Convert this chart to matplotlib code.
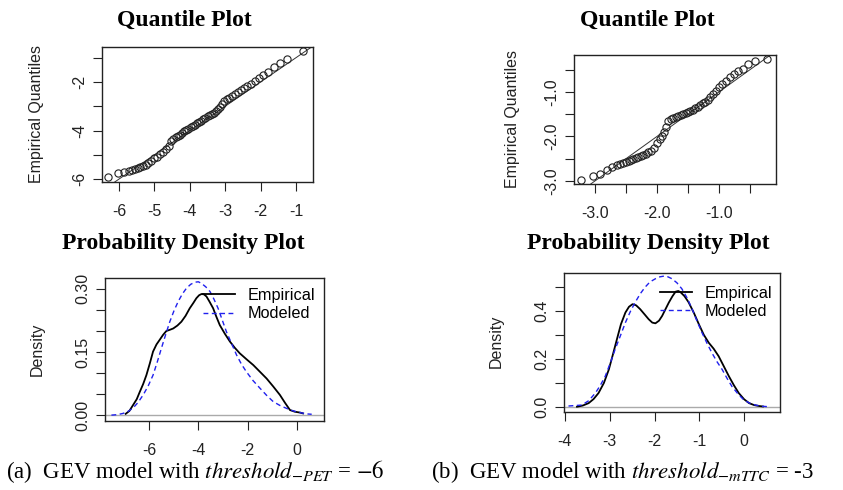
import matplotlib
matplotlib.use("Agg")
import matplotlib.pyplot as plt

plt.rcParams["font.family"] = ["Liberation Sans", "DejaVu Sans"]
plt.rcParams["axes.unicode_minus"] = False
plt.rcParams["mathtext.fontset"] = "stix"

# quantile plot (a): model quantile vs empirical quantile
model_a = [-6.31, -6.03, -5.86, -5.72, -5.62, -5.55, -5.47, -5.40, -5.32, -5.25,
           -5.18, -5.10, -5.02, -4.93, -4.85, -4.76, -4.68, -4.60, -4.53, -4.47,
           -4.40, -4.34, -4.28, -4.22, -4.16, -4.10, -4.04, -3.98, -3.92, -3.86,
           -3.80, -3.74, -3.68, -3.62, -3.56, -3.50, -3.44, -3.38, -3.32, -3.26,
           -3.20, -3.14, -3.08, -3.02, -2.95, -2.88, -2.80, -2.72, -2.64, -2.56,
           -2.47, -2.38, -2.28, -2.17, -2.05, -1.92, -1.78, -1.62, -1.45, -1.25,
           -0.80]
empirical_a = [-5.92, -5.75, -5.71, -5.66, -5.62, -5.58, -5.55, -5.52, -5.48, -5.42,
               -5.35, -5.25, -5.15, -5.08, -4.97, -4.88, -4.75, -4.62, -4.45, -4.33,
               -4.27, -4.22, -4.17, -4.10, -4.03, -3.97, -3.92, -3.87, -3.81, -3.76,
               -3.70, -3.65, -3.60, -3.54, -3.48, -3.42, -3.37, -3.32, -3.27, -3.20,
               -3.12, -3.05, -2.92, -2.78, -2.72, -2.66, -2.58, -2.50, -2.42, -2.34,
               -2.26, -2.17, -2.08, -1.96, -1.85, -1.72, -1.59, -1.40, -1.22, -1.05,
               -0.72]

# quantile plot (b)
model_b = [-3.23, -3.04, -2.92, -2.81, -2.72, -2.65, -2.59, -2.55, -2.50, -2.46,
           -2.42, -2.38, -2.34, -2.30, -2.26, -2.22, -2.18, -2.14, -2.10, -2.05,
           -2.00, -1.96, -1.92, -1.88, -1.85, -1.82, -1.78, -1.74, -1.70, -1.66,
           -1.62, -1.58, -1.54, -1.50, -1.46, -1.42, -1.38, -1.34, -1.30, -1.26,
           -1.22, -1.18, -1.14, -1.10, -1.05, -1.00, -0.95, -0.89, -0.82, -0.76,
           -0.70, -0.62, -0.53, -0.42, -0.23]
empirical_b = [-2.98, -2.90, -2.84, -2.75, -2.69, -2.64, -2.61, -2.59, -2.57, -2.55,
               -2.53, -2.51, -2.49, -2.47, -2.45, -2.42, -2.39, -2.36, -2.33, -2.26,
               -2.15, -2.05, -1.98, -1.90, -1.78, -1.66, -1.62, -1.59, -1.57, -1.55,
               -1.52, -1.50, -1.48, -1.46, -1.43, -1.40, -1.37, -1.34, -1.30, -1.26,
               -1.22, -1.18, -1.12, -1.04, -0.98, -0.90, -0.83, -0.76, -0.66, -0.59,
               -0.54, -0.48, -0.38, -0.30, -0.26]

# density plot (a)
emp_x_a = [-6.95, -6.80, -6.65, -6.50, -6.38, -6.24, -6.11, -5.97, -5.84, -5.70,
           -5.57, -5.43, -5.30, -5.15, -5.02, -4.85, -4.69, -4.52, -4.35, -4.20,
           -4.08, -3.97, -3.87, -3.77, -3.67, -3.55, -3.40, -3.27, -3.13, -2.92,
           -2.72, -2.52, -2.32, -2.05, -1.77, -1.50, -1.23, -0.96, -0.69, -0.48,
           -0.28, -0.08, 0.13, 0.25]
emp_y_a = [0.003, 0.010, 0.024, 0.038, 0.055, 0.074, 0.095, 0.123, 0.151, 0.168,
           0.179, 0.191, 0.200, 0.203, 0.206, 0.213, 0.222, 0.236, 0.254, 0.267,
           0.278, 0.285, 0.288, 0.287, 0.282, 0.270, 0.254, 0.234, 0.214, 0.193,
           0.175, 0.160, 0.147, 0.133, 0.119, 0.103, 0.087, 0.068, 0.048, 0.029,
           0.012, 0.008, 0.006, 0.004]
mod_x_a = [-7.53, -7.30, -7.06, -6.85, -6.65, -6.45, -6.24, -6.04, -5.84, -5.67,
           -5.50, -5.33, -5.16, -4.99, -4.82, -4.65, -4.48, -4.31, -4.14, -4.00,
           -3.87, -3.70, -3.53, -3.37, -3.20, -3.03, -2.86, -2.65, -2.45, -2.25,
           -2.05, -1.78, -1.50, -1.23, -0.96, -0.69, -0.42, -0.15, 0.13, 0.37,
           0.60]
mod_y_a = [0.000, 0.001, 0.004, 0.009, 0.017, 0.030, 0.048, 0.069, 0.095, 0.126,
           0.159, 0.191, 0.222, 0.248, 0.270, 0.288, 0.302, 0.311, 0.316, 0.317,
           0.313, 0.305, 0.294, 0.276, 0.254, 0.226, 0.198, 0.170, 0.143, 0.121,
           0.103, 0.082, 0.064, 0.047, 0.032, 0.023, 0.016, 0.010, 0.006, 0.003,
           0.002]

# density plot (b)
emp_x_b = [-3.73, -3.60, -3.47, -3.36, -3.25, -3.13, -3.02, -2.93, -2.84, -2.75,
           -2.65, -2.57, -2.49, -2.41, -2.32, -2.22, -2.13, -2.05, -1.98, -1.90,
           -1.83, -1.75, -1.68, -1.60, -1.53, -1.47, -1.42, -1.33, -1.24, -1.12,
           -1.01, -0.90, -0.79, -0.68, -0.57, -0.46, -0.34, -0.23, -0.12, 0.00,
           0.11, 0.22, 0.33, 0.42]
emp_y_b = [0.001, 0.006, 0.016, 0.033, 0.058, 0.100, 0.156, 0.218, 0.282, 0.345,
           0.394, 0.418, 0.429, 0.424, 0.408, 0.386, 0.366, 0.352, 0.349, 0.360,
           0.380, 0.410, 0.436, 0.462, 0.481, 0.484, 0.479, 0.462, 0.437, 0.392,
           0.345, 0.301, 0.268, 0.243, 0.212, 0.172, 0.128, 0.091, 0.058, 0.032,
           0.016, 0.008, 0.004, 0.002]
mod_x_b = [-3.92, -3.77, -3.62, -3.47, -3.32, -3.21, -3.10, -2.99, -2.88, -2.76,
           -2.65, -2.54, -2.43, -2.32, -2.21, -2.10, -1.98, -1.88, -1.79, -1.70,
           -1.61, -1.50, -1.39, -1.27, -1.16, -1.05, -0.94, -0.83, -0.72, -0.61,
           -0.49, -0.38, -0.27, -0.14, -0.01, 0.12, 0.25, 0.40, 0.55]
mod_y_b = [0.004, 0.006, 0.008, 0.026, 0.058, 0.090, 0.128, 0.182, 0.240, 0.298,
           0.352, 0.398, 0.437, 0.472, 0.500, 0.522, 0.535, 0.543, 0.546, 0.543,
           0.535, 0.518, 0.493, 0.454, 0.408, 0.358, 0.310, 0.266, 0.226, 0.190,
           0.156, 0.119, 0.085, 0.055, 0.030, 0.016, 0.008, 0.003, 0.001]

W, H = 843, 490


def px_axes(fig, left, top, right, bottom):
    return fig.add_axes([left / W, 1 - bottom / H, (right - left) / W, (bottom - top) / H])


def r_style(ax, xticks, xlabels, yticks, ylabels):
    ax.set_xticks(xticks, xlabels)
    ax.set_yticks(yticks, ylabels)
    ax.tick_params(direction="out", length=6.5, width=0.8, labelsize=11.5, colors="#222222")
    ax.tick_params(axis="x", pad=9)
    ax.tick_params(axis="y", pad=4, labelrotation=90)
    for lab in ax.get_yticklabels():
        lab.set_va("center")
    for s in ax.spines.values():
        s.set_linewidth(1.0)
        s.set_color("#222222")


def qq_panel(ax, model, emp):
    ax.axline((0, 0), slope=1, color="#333333", lw=0.7)
    ax.plot(model, emp, "o", mfc="none", mec="#222222", mew=0.8, ms=5.2)


def dens_panel(ax, ex, ey, mx, my):
    ax.axhline(0, color="#aaaaaa", lw=1.0)
    ax.plot(ex, ey, color="black", lw=1.3, label="Empirical")
    ax.plot(mx, my, color="#2020ee", lw=1.0, dashes=(3.5, 2.5), label="Modeled")


fig = plt.figure(figsize=(W / 100, H / 100), dpi=100)

# (a) quantile
ax1 = px_axes(fig, 102, 47, 313, 182)
qq_panel(ax1, model_a, empirical_a)
ax1.set_xlim(-6.48, -0.52)
ax1.set_ylim(-6.12, -0.56)
r_style(ax1, [-6, -5, -4, -3, -2, -1], ["-6", "-5", "-4", "-3", "-2", "-1"],
        [-6, -5, -4, -3, -2, -1], ["-6", "", "-4", "", "-2", ""])

# (b) quantile
ax2 = px_axes(fig, 574, 55, 776, 184)
qq_panel(ax2, model_b, empirical_b)
ax2.set_xlim(-3.34, -0.08)
ax2.set_ylim(-3.07, -0.17)
r_style(ax2, [-3.0, -2.5, -2.0, -1.5, -1.0, -0.5], ["-3.0", "", "-2.0", "", "-1.0", ""],
        [-3.0, -2.5, -2.0, -1.5, -1.0, -0.5], ["-3.0", "", "-2.0", "", "-1.0", ""])

# (a) density
ax3 = px_axes(fig, 105, 278, 324, 421)
dens_panel(ax3, emp_x_a, emp_y_a, mod_x_a, mod_y_a)
ax3.set_xlim(-7.79, 1.1)
ax3.set_ylim(-0.014, 0.326)
r_style(ax3, [-6, -4, -2, 0], ["-6", "-4", "-2", "0"],
        [0, 0.05, 0.10, 0.15, 0.20, 0.25, 0.30], ["0.00", "", "", "0.15", "", "", "0.30"])
ax3.legend(loc="upper left", bbox_to_anchor=(0.447, 0.93), frameon=False, fontsize=11.7,
           handlelength=1.95, handletextpad=0.8, labelspacing=0.2, borderpad=0, borderaxespad=0)

# (b) density
ax4 = px_axes(fig, 564, 273, 780, 412)
dens_panel(ax4, emp_x_b, emp_y_b, mod_x_b, mod_y_b)
ax4.set_xlim(-4.02, 0.8)
ax4.set_ylim(-0.021, 0.559)
r_style(ax4, [-4, -3, -2, -1, 0], ["-4", "-3", "-2", "-1", "0"],
        [0, 0.1, 0.2, 0.3, 0.4, 0.5], ["0.0", "", "0.2", "", "0.4", ""])
ax4.legend(loc="upper left", bbox_to_anchor=(0.446, 0.91), frameon=False, fontsize=11.7,
           handlelength=1.95, handletextpad=0.8, labelspacing=0.2, borderpad=0, borderaxespad=0)

serif = ["Liberation Serif", "DejaVu Serif"]
for x, y, txt in [(184.5, 20, "Quantile Plot"), (647.5, 20, "Quantile Plot"),
                  (183.5, 243, "Probability Density Plot"), (648, 243, "Probability Density Plot")]:
    fig.text(x / W, 1 - y / H, txt, ha="center", va="center", fontsize=17,
             fontweight="bold", family=serif)

for x, y, txt in [(37, 114, "Empirical Quantiles"), (512, 119, "Empirical Quantiles"),
                  (37, 349, "Density"), (496, 341, "Density")]:
    fig.text(x / W, 1 - y / H, txt, ha="center", va="center", rotation=90,
             fontsize=11.5, color="#222222")

fig.text(6 / W, 1 - 478 / H, r"(a)  GEV model with $threshold_{-PET}$ = $-6$",
         ha="left", va="baseline", fontsize=16.5, family=serif)
fig.text(431 / W, 1 - 478 / H, r"(b)  GEV model with $threshold_{-mTTC}$ = -3",
         ha="left", va="baseline", fontsize=16.5, family=serif)

fig.savefig("out.png", dpi=100)
